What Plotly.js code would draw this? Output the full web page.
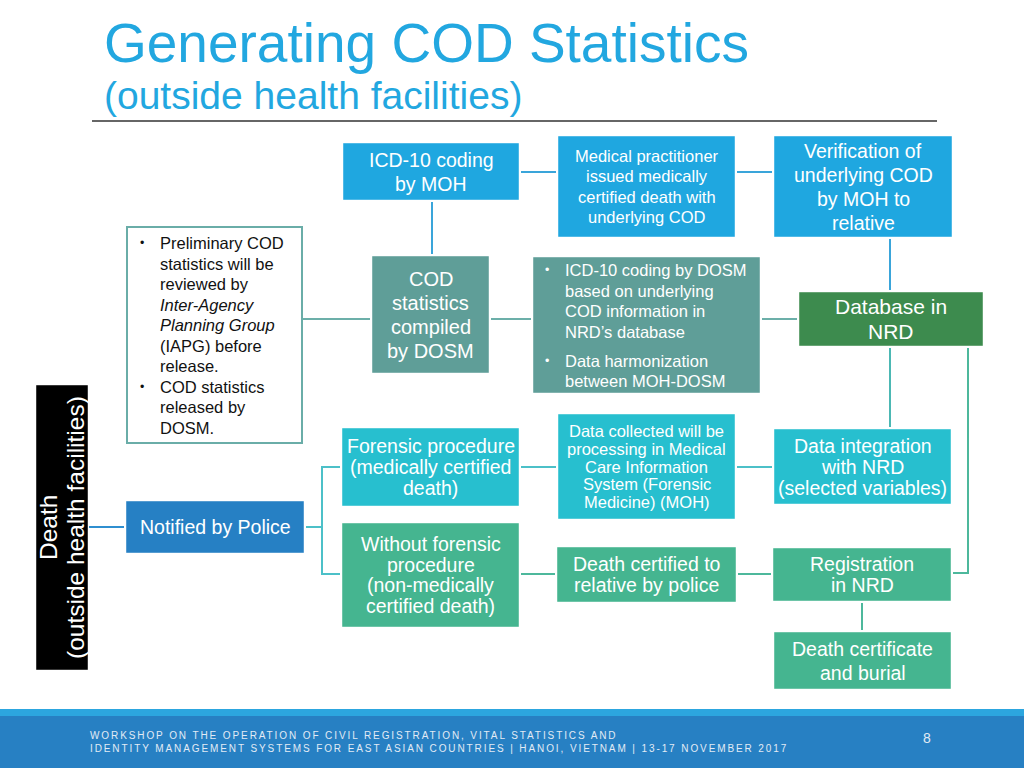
<!DOCTYPE html>
<html>
<head>
<meta charset="utf-8">
<script src="https://cdn.plot.ly/plotly-3.0.1.min.js"></script>
<style>
html,body{margin:0;padding:0;background:#ffffff;}
#chart{width:1024px;height:768px;}
</style>
</head>
<body>
<div id="chart"></div>
<script>
// ---------------- DATA (text content) ----------------
const titleText = "Generating COD Statistics";
const subtitleText = "(outside health facilities)";
const footerLines = [
  "WORKSHOP ON THE OPERATION OF CIVIL REGISTRATION, VITAL STATISTICS AND",
  "IDENTITY MANAGEMENT SYSTEMS FOR EAST ASIAN COUNTRIES | HANOI, VIETNAM | 13-17 NOVEMBER 2017"
];
const pageNumber = "8";

const nodeIds = ["death","police","forensic","without","collected","certRel",
  "integration","registration","burial","database","verification",
  "practitioner","icdMoh","codStats"];
const nodeLabels = [
  ["Death","(outside health facilities)"],
  ["Notified by Police"],
  ["Forensic procedure","(medically certified","death)"],
  ["Without forensic","procedure","(non-medically","certified death)"],
  ["Data collected will be","processing in Medical","Care Information","System (Forensic","Medicine) (MOH)"],
  ["Death certified to","relative by police"],
  ["Data integration","with NRD","(selected variables)"],
  ["Registration","in NRD"],
  ["Death certificate","and burial"],
  ["Database in","NRD"],
  ["Verification of","underlying COD","by MOH to","relative"],
  ["Medical practitioner","issued medically","certified death with","underlying COD"],
  ["ICD-10 coding","by MOH"],
  ["COD","statistics","compiled","by DOSM"]
];
const reviewBullets = [
  ["Preliminary COD","statistics will be","reviewed by","<i>Inter-Agency</i>","<i>Planning Group</i>","(IAPG) before","release."],
  ["COD statistics","released by","DOSM."]
];
const dosmBullets = [
  ["ICD-10 coding by DOSM","based on underlying","COD information in","NRD\u2019s database"],
  ["Data harmonization","between MOH-DOSM"]
];

// ---------------- LAYOUT / STYLE (pixel geometry) ----------------
const FONT = "Liberation Sans, Arial, Helvetica, sans-serif";
const C = {
  sky:"#1fa7e0", teal:"#5f9e98", dkgreen:"#3d8b4e", cyan:"#27bfcf",
  green:"#45b590", police:"#2680c4", black:"#000000"
};
const geom = {
  death:        {box:[36,385,88,670],   fill:C.black,  size:24.5, gap:27, rot:true},
  police:       {box:[126,501,304,553], fill:C.police, size:19.5, gap:24},
  forensic:     {box:[342,428,519,506], fill:C.cyan,   size:19.5, gap:21},
  without:      {box:[342,523,519,627], fill:C.green,  size:19.5, gap:20.7},
  collected:    {box:[558,414,735,519], fill:C.cyan,   size:16.5, gap:17.8},
  certRel:      {box:[557,547,736,602], fill:C.green,  size:19.5, gap:21},
  integration:  {box:[774,429,951,504], fill:C.cyan,   size:19.5, gap:21},
  registration: {box:[773,548,951,601], fill:C.green,  size:19.5, gap:21},
  burial:       {box:[774,632,951,689], fill:C.green,  size:19.5, gap:24},
  database:     {box:[799,292,983,346], fill:C.dkgreen,size:21,   gap:25},
  verification: {box:[774,136,952,237], fill:C.sky,    size:19.5, gap:24},
  practitioner: {box:[558,136,735,237], fill:C.sky,    size:16.5, gap:20.3},
  icdMoh:       {box:[343,143,519,200], fill:C.sky,    size:19.5, gap:24},
  codStats:     {box:[372,256,489,373], fill:C.teal,   size:20,   gap:24}
};
const reviewGeom = {box:[127,227,302,443], border:"#6aada8", bulletX:142, textX:158, firstY:243, gap:20.55, paraGap:0, size:16.5, color:"#111111"};
const dosmGeom = {box:[533,257,760,393], fill:C.teal, bulletX:547, textX:563, firstY:270, gap:20.5, paraGap:8.5, size:16.5, color:"#ffffff"};

const LBLUE = "#3aa5da", LCYAN = "#4cc0c8", LGREEN = "#4db89c", LTEAL = "#6cafa9", LPOL = "#2f8fd0";
const connectors = [
  {pts:[[89,527],[124,527]], color:LPOL},
  {pts:[[306,527],[322,527]], color:LCYAN},
  {pts:[[340,467],[322,467],[322,574],[340,574]], color:LCYAN},
  {pts:[[521,467],[556,467]], color:LCYAN},
  {pts:[[737,467],[772,467]], color:LCYAN},
  {pts:[[521,574],[555,574]], color:LGREEN},
  {pts:[[738,574],[771,574]], color:LGREEN},
  {pts:[[862,603],[862,630]], color:LGREEN},
  {pts:[[890,348],[890,427]], color:"#4cb8b4"},
  {pts:[[968,348],[968,573],[953,573]], color:LGREEN},
  {pts:[[521,172],[556,172]], color:LBLUE},
  {pts:[[737,172],[772,172]], color:LBLUE},
  {pts:[[890,239],[890,290]], color:LBLUE},
  {pts:[[432,202],[432,254]], color:LBLUE},
  {pts:[[303,319],[370,319]], color:LTEAL},
  {pts:[[491,319],[531,319]], color:LTEAL},
  {pts:[[762,319],[797,319]], color:LTEAL}
];

// ---------------- BUILD ----------------
const shapes = [];
const annotations = [];

function ann(x, y, text, size, color, opts) {
  annotations.push(Object.assign({
    x:x, y:y, xref:"x", yref:"y", text:text, showarrow:false,
    xanchor:"center", yanchor:"middle",
    font:{family:FONT, size:size, color:color}
  }, opts || {}));
}

// footer band
shapes.push({type:"rect", xref:"x", yref:"y", x0:0, x1:1024, y0:709, y1:768, fillcolor:"#2780c3", line:{width:0}, layer:"below"});
shapes.push({type:"rect", xref:"x", yref:"y", x0:0, x1:1024, y0:709, y1:716, fillcolor:"#2ca6df", line:{width:0}, layer:"below"});
// rule under title
shapes.push({type:"line", xref:"x", yref:"y", x0:92, x1:937, y0:121, y1:121, line:{color:"#333333", width:1.5}});

// connectors
connectors.forEach(c => {
  const d = c.pts.map((p,i) => (i ? "L" : "M") + p[0] + "," + p[1]).join(" ");
  shapes.push({type:"path", xref:"x", yref:"y", path:d, line:{color:c.color, width:2}});
});

// boxes with centered text
nodeIds.forEach((id, k) => {
  const g = geom[id];
  const [x0,y0,x1,y1] = g.box;
  shapes.push({type:"rect", xref:"x", yref:"y", x0:x0, x1:x1, y0:y0, y1:y1,
    fillcolor:g.fill, line:{color:"rgba(255,255,255,0.45)", width:1}});
  const lines = nodeLabels[k];
  const cx = (x0+x1)/2, cy = (y0+y1)/2;
  const n = lines.length;
  lines.forEach((t, i) => {
    const off = (i - (n-1)/2) * g.gap;
    if (g.rot) {
      ann(cx + off, cy, t, g.size, "#ffffff", {textangle:-90});
    } else {
      ann(cx, cy + off, t, g.size, "#ffffff");
    }
  });
});

// bullet boxes
function bulletBox(g, paras, isOutline) {
  const [x0,y0,x1,y1] = g.box;
  if (isOutline) {
    shapes.push({type:"rect", xref:"x", yref:"y", x0:x0, x1:x1, y0:y0, y1:y1,
      fillcolor:"#ffffff", line:{color:g.border, width:2}});
  } else {
    shapes.push({type:"rect", xref:"x", yref:"y", x0:x0, x1:x1, y0:y0, y1:y1,
      fillcolor:g.fill, line:{color:"rgba(255,255,255,0.45)", width:1}});
  }
  let y = g.firstY;
  paras.forEach((p, pi) => {
    if (pi > 0) y += g.paraGap;
    ann(g.bulletX, y, "\u2022", g.size*0.75, g.color);
    p.forEach(t => {
      ann(g.textX, y, t, g.size, g.color, {xanchor:"left"});
      y += g.gap;
    });
  });
}
bulletBox(reviewGeom, reviewBullets, true);
bulletBox(dosmGeom, dosmBullets, false);

// title
ann(102, 43, titleText, 55, "#22a7e0", {xanchor:"left"});
ann(102, 95, subtitleText, 39, "#22a7e0", {xanchor:"left"});

// footer text
ann(88, 735, '<span style="letter-spacing:1.9px">' + footerLines[0] + '</span>', 10, "#e2ebf5", {xanchor:"left"});
ann(88, 748, '<span style="letter-spacing:1.9px">' + footerLines[1] + '</span>', 10, "#e2ebf5", {xanchor:"left"});
ann(927, 738, pageNumber, 14, "#e2ebf5");

const layout = {
  width:1024, height:768,
  margin:{l:0, r:0, t:0, b:0, pad:0},
  paper_bgcolor:"#ffffff", plot_bgcolor:"#ffffff",
  showlegend:false,
  xaxis:{range:[0,1024], visible:false, fixedrange:true, showgrid:false, zeroline:false},
  yaxis:{range:[768,0], visible:false, fixedrange:true, showgrid:false, zeroline:false},
  shapes:shapes,
  annotations:annotations
};
Plotly.newPlot("chart", [{x:[], y:[], type:"scatter", mode:"markers", hoverinfo:"skip"}], layout, {staticPlot:true, displayModeBar:false});
</script>
</body>
</html>
